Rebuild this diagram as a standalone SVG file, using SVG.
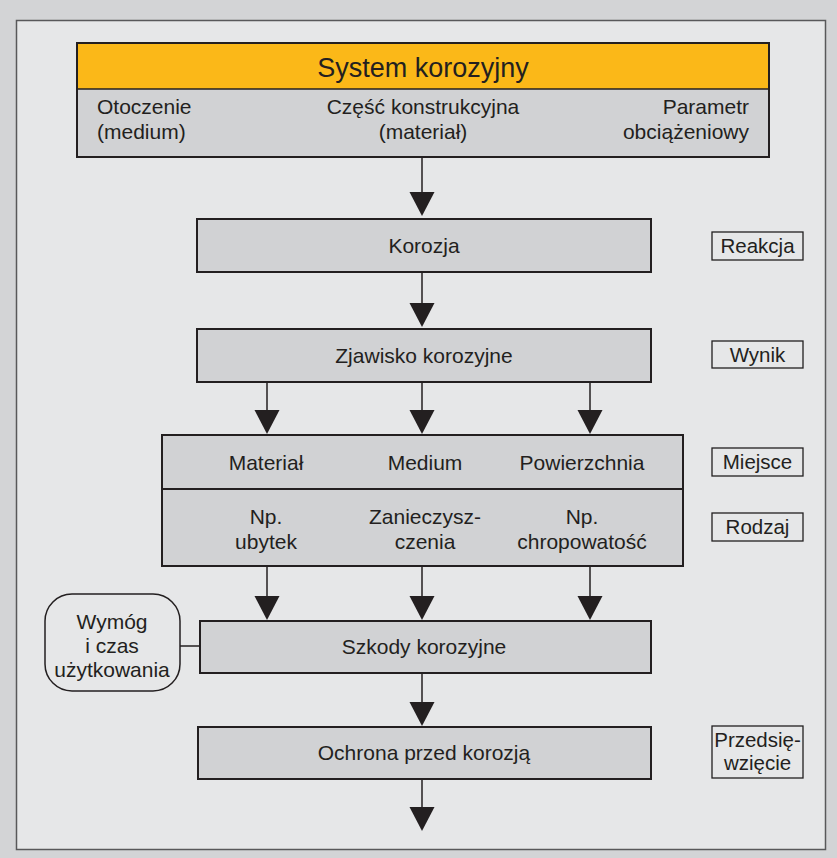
<svg xmlns="http://www.w3.org/2000/svg" width="837" height="858" viewBox="0 0 837 858">
<defs>
<style>
text{font-family:"Liberation Sans",Arial,sans-serif;fill:#231f20;font-size:21px;text-anchor:middle}
.box{fill:#d1d2d4;stroke:#231f20;stroke-width:2}
.lab{fill:none;stroke:#231f20;stroke-width:1.3}
.ln{stroke:#231f20;stroke-width:1.5;fill:none}
.l{text-anchor:start}.r{text-anchor:end}
.t{font-size:20.5px}
</style>
</defs>
<rect x="0" y="0" width="837" height="858" fill="#d3d4d6"/>
<rect x="16.5" y="20.5" width="809" height="829" fill="#e6e7e8" stroke="#58585a" stroke-width="1.5"/>

<g id="connectors">
<line class="ln" x1="422" y1="157" x2="422" y2="192"/><path d="M409.5,192 L434.5,192 L422,216 Z" fill="#231f20"/>
<line class="ln" x1="422" y1="272" x2="422" y2="303"/><path d="M409.5,303 L434.5,303 L422,327 Z" fill="#231f20"/>
<line class="ln" x1="267" y1="382" x2="267" y2="410"/><path d="M254.5,410 L279.5,410 L267,434 Z" fill="#231f20"/>
<line class="ln" x1="422" y1="382" x2="422" y2="410"/><path d="M409.5,410 L434.5,410 L422,434 Z" fill="#231f20"/>
<line class="ln" x1="590" y1="382" x2="590" y2="410"/><path d="M577.5,410 L602.5,410 L590,434 Z" fill="#231f20"/>
<line class="ln" x1="267" y1="566" x2="267" y2="596"/><path d="M254.5,596 L279.5,596 L267,620 Z" fill="#231f20"/>
<line class="ln" x1="422" y1="566" x2="422" y2="596"/><path d="M409.5,596 L434.5,596 L422,620 Z" fill="#231f20"/>
<line class="ln" x1="590" y1="566" x2="590" y2="596"/><path d="M577.5,596 L602.5,596 L590,620 Z" fill="#231f20"/>
<line class="ln" x1="422" y1="673" x2="422" y2="702"/><path d="M409.5,702 L434.5,702 L422,726 Z" fill="#231f20"/>
<line class="ln" x1="422" y1="779" x2="422" y2="807"/><path d="M409.5,807 L434.5,807 L422,831 Z" fill="#231f20"/>
<line class="ln" x1="180" y1="646" x2="200" y2="646"/>
</g>

<g id="system">
<rect x="77" y="43" width="692" height="114" class="box"/>
<rect x="78" y="44" width="690" height="45" fill="#fbb818"/>
<line x1="77" y1="89" x2="769" y2="89" class="ln"/>
<rect x="77" y="43" width="692" height="114" fill="none" stroke="#231f20" stroke-width="2"/>
<text x="423" y="77" style="font-size:27px">System korozyjny</text>
<text x="97" y="114" class="l">Otoczenie</text>
<text x="97" y="139" class="l">(medium)</text>
<text x="423" y="114">Część konstrukcyjna</text>
<text x="423" y="139">(materiał)</text>
<text x="749" y="114" class="r">Parametr</text>
<text x="749" y="139" class="r">obciążeniowy</text>
</g>

<g id="korozja">
<rect x="197" y="219" width="454" height="53" class="box"/>
<text x="424" y="253">Korozja</text>
</g>

<g id="zjawisko">
<rect x="197" y="329" width="454" height="53" class="box"/>
<text x="424" y="363">Zjawisko korozyjne</text>
</g>

<g id="miejsce-rodzaj">
<rect x="162" y="435" width="521" height="131" class="box"/>
<line x1="162" y1="489" x2="683" y2="489" stroke="#231f20" stroke-width="2"/>
<text x="266" y="470">Materiał</text>
<text x="425" y="470">Medium</text>
<text x="582" y="470">Powierzchnia</text>
<text x="266" y="524">Np.</text>
<text x="266" y="549">ubytek</text>
<text x="425" y="524">Zanieczysz-</text>
<text x="425" y="549">czenia</text>
<text x="582" y="524">Np.</text>
<text x="582" y="549">chropowatość</text>
</g>

<g id="wymog">
<rect x="45" y="594" width="135" height="97" rx="27" ry="27" fill="none" stroke="#231f20" stroke-width="1.5"/>
<text x="112" y="629">Wymóg</text>
<text x="112" y="653">i czas</text>
<text x="112" y="677">użytkowania</text>
</g>

<g id="szkody">
<rect x="200" y="621" width="451" height="52" class="box"/>
<text x="424" y="654">Szkody korozyjne</text>
</g>

<g id="ochrona">
<rect x="198" y="727" width="453" height="52" class="box"/>
<text x="424" y="760">Ochrona przed korozją</text>
</g>

<g id="labels">
<rect x="712" y="232" width="91" height="28" class="lab"/>
<text x="757.5" y="253" class="t">Reakcja</text>
<rect x="712" y="341" width="91" height="27" class="lab"/>
<text x="757.5" y="362" class="t">Wynik</text>
<rect x="712" y="448" width="91" height="28" class="lab"/>
<text x="757.5" y="469" class="t">Miejsce</text>
<rect x="712" y="513" width="91" height="28" class="lab"/>
<text x="757.5" y="534" class="t">Rodzaj</text>
<rect x="712" y="726" width="91" height="52" class="lab"/>
<text x="757.5" y="747" class="t">Przedsię-</text>
<text x="757.5" y="770" class="t">wzięcie</text>
</g>
</svg>
